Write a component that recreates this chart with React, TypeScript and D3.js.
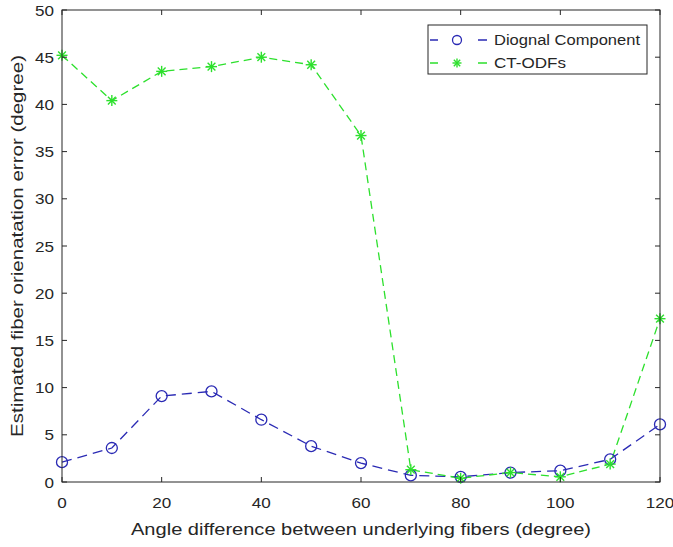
import React from "react";
import * as d3 from "d3";

const angles = [0, 10, 20, 30, 40, 50, 60, 70, 80, 90, 100, 110, 120];
const diagonal = [2.1, 3.6, 9.1, 9.6, 6.6, 3.8, 2.0, 0.7, 0.55, 1.0, 1.2, 2.4, 6.1];
const ctOdfs = [45.2, 40.4, 43.5, 44.0, 45.0, 44.2, 36.7, 1.3, 0.4, 1.0, 0.55, 1.9, 17.3];
const xTicks = [0, 20, 40, 60, 80, 100, 120];
const yTicks = [0, 5, 10, 15, 20, 25, 30, 35, 40, 45, 50];
const seriesNames = ["Diognal Component", "CT-ODFs"];

const W = 673, H = 547;
const M = { left: 62, right: 660, top: 10, bottom: 482 };
const BLUE = "#2a2ab4";
const GREEN = "#2de02d";
const AX = "#262626";
const FONT = "'Liberation Sans', Arial, Helvetica, sans-serif";

function Star({ x, y, s, color }: { x: number; y: number; s: number; color: string }) {
  const d = s * 0.7071;
  return (
    <g stroke={color} strokeWidth={1.4}>
      <line x1={x - s} y1={y} x2={x + s} y2={y} />
      <line x1={x} y1={y - s} x2={x} y2={y + s} />
      <line x1={x - d} y1={y - d} x2={x + d} y2={y + d} />
      <line x1={x - d} y1={y + d} x2={x + d} y2={y - d} />
    </g>
  );
}

export default function App() {
  const x = d3.scaleLinear().domain([0, 120]).range([M.left, M.right]);
  const y = d3.scaleLinear().domain([0, 50]).range([M.bottom, M.top]);
  const line = d3
    .line<[number, number]>()
    .x((d) => x(d[0]))
    .y((d) => y(d[1]));
  const blueData = angles.map((a, i) => [a, diagonal[i]] as [number, number]);
  const greenData = angles.map((a, i) => [a, ctOdfs[i]] as [number, number]);
  const tl = 5;
  const lx = 428, ly = 25, lw = 219, lh = 49;
  const tlen = (t: number) => String(t).length * 9.5;
  return (
    <svg width={W} height={H} style={{ position: "absolute", left: 0, top: 0, background: "#fff" }} fontFamily={FONT}>
      <rect x={0} y={0} width={W} height={H} fill="#fff" />
      {/* series */}
      <path d={line(blueData) || ""} fill="none" stroke={BLUE} strokeWidth={1.3} strokeDasharray="10,6" />
      <path d={line(greenData) || ""} fill="none" stroke={GREEN} strokeWidth={1.3} strokeDasharray="8,5" />
      {blueData.map((d, i) => (
        <circle key={"c" + i} cx={x(d[0])} cy={y(d[1])} r={5.5} fill="none" stroke={BLUE} strokeWidth={1.3} />
      ))}
      {greenData.map((d, i) => (
        <Star key={"s" + i} x={x(d[0])} y={y(d[1])} s={5.5} color={GREEN} />
      ))}
      {/* axes box */}
      <rect x={M.left} y={M.top} width={M.right - M.left} height={M.bottom - M.top} fill="none" stroke={AX} strokeWidth={1} />
      {xTicks.map((t) => (
        <g key={"xt" + t}>
          <line x1={x(t)} x2={x(t)} y1={M.bottom} y2={M.bottom - tl} stroke={AX} />
          <line x1={x(t)} x2={x(t)} y1={M.top} y2={M.top + tl} stroke={AX} />
          <text x={x(t) - tlen(t) / 2} y={508} fontSize={15} fill={AX} textLength={tlen(t)} lengthAdjust="spacingAndGlyphs">{t}</text>
        </g>
      ))}
      {yTicks.map((t) => (
        <g key={"yt" + t}>
          <line x1={M.left} x2={M.left + tl} y1={y(t)} y2={y(t)} stroke={AX} />
          <line x1={M.right} x2={M.right - tl} y1={y(t)} y2={y(t)} stroke={AX} />
          <text x={54 - tlen(t)} y={y(t) + 5.5} fontSize={15} fill={AX} textLength={tlen(t)} lengthAdjust="spacingAndGlyphs">{t}</text>
        </g>
      ))}
      <text x={131} y={535} fontSize={17} fill={AX} textLength={460} lengthAdjust="spacingAndGlyphs">
        Angle difference between underlying fibers (degree)
      </text>
      <text transform={`translate(23,437) rotate(-90)`} fontSize={17} fill={AX} textLength={382} lengthAdjust="spacingAndGlyphs">
        Estimated fiber orienatation error (degree)
      </text>
      {/* legend */}
      <rect x={lx} y={ly} width={lw} height={lh} fill="#fff" stroke={AX} strokeWidth={1} />
      <line x1={lx + 2} x2={lx + 59} y1={ly + 15} y2={ly + 15} stroke={BLUE} strokeWidth={1.3} strokeDasharray="8,40,9" />
      <circle cx={lx + 29} cy={ly + 15} r={4.5} fill="none" stroke={BLUE} strokeWidth={1.3} />
      <text x={lx + 66} y={ly + 20} fontSize={14} fill={AX} textLength={146} lengthAdjust="spacingAndGlyphs">{seriesNames[0]}</text>
      <line x1={lx + 2} x2={lx + 59} y1={ly + 38} y2={ly + 38} stroke={GREEN} strokeWidth={1.3} strokeDasharray="8,40,9" />
      <Star x={lx + 29} y={ly + 38} s={4.5} color={GREEN} />
      <text x={lx + 66} y={ly + 43} fontSize={14} fill={AX} textLength={72} lengthAdjust="spacingAndGlyphs">{seriesNames[1]}</text>
    </svg>
  );
}
